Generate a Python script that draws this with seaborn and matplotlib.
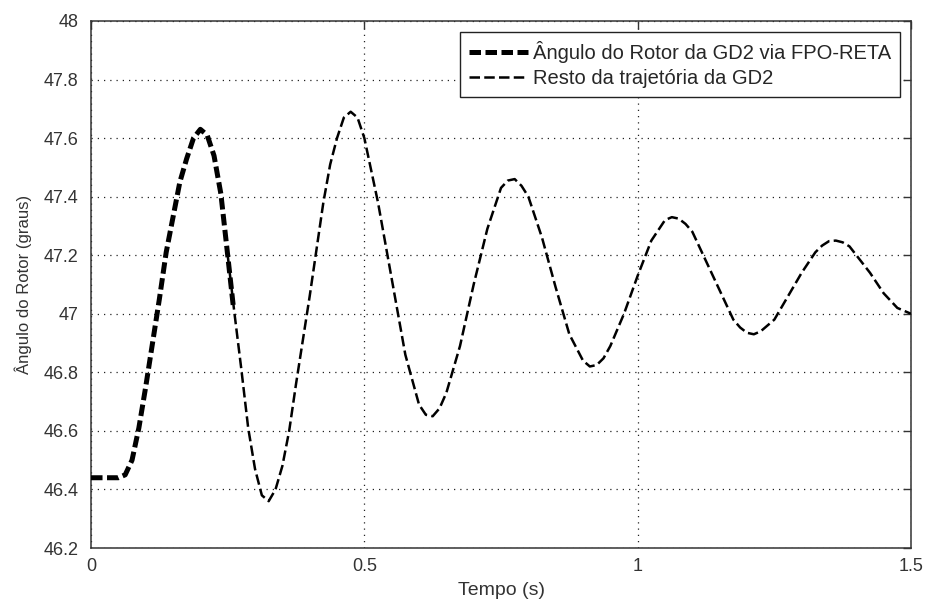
"""Angulo do rotor da GD2 - trajetoria via FPO-RETA e resto da trajetoria."""
import matplotlib
matplotlib.use("Agg")
import matplotlib.pyplot as plt
import pandas as pd
import seaborn as sns

# trecho calculado via FPO-RETA (linha grossa)
t_fpo = [0.0, 0.025, 0.05, 0.0625, 0.075, 0.0875, 0.1, 0.1125, 0.125, 0.1375,
         0.15, 0.1625, 0.175, 0.1875, 0.2, 0.2125, 0.225, 0.2375, 0.25, 0.26]
ang_fpo = [46.44, 46.44, 46.44, 46.45, 46.50, 46.61, 46.75, 46.90, 47.05, 47.21,
           47.33, 47.45, 47.53, 47.60, 47.63, 47.61, 47.54, 47.41, 47.20, 47.03]

# resto da trajetoria (linha fina)
t_resto = [0.25, 0.2625, 0.275, 0.2875, 0.3, 0.3125, 0.325, 0.3375, 0.35, 0.3625,
           0.375, 0.3875, 0.4, 0.4125, 0.425, 0.4375, 0.45, 0.4625, 0.475, 0.4875,
           0.5, 0.525, 0.55, 0.575, 0.6, 0.6125, 0.625, 0.6375, 0.65, 0.675,
           0.7, 0.725, 0.75, 0.7625, 0.775, 0.7875, 0.8, 0.825, 0.85, 0.875,
           0.9, 0.9125, 0.925, 0.9375, 0.95, 0.975, 1.0, 1.025, 1.05, 1.0625,
           1.075, 1.0875, 1.1, 1.125, 1.15, 1.175, 1.1875, 1.2, 1.2125, 1.225,
           1.25, 1.275, 1.3, 1.325, 1.3375, 1.35, 1.3625, 1.375, 1.3875, 1.4,
           1.425, 1.45, 1.475, 1.5]
ang_resto = [47.20, 47.00, 46.81, 46.61, 46.47, 46.38, 46.36, 46.40, 46.48, 46.60,
             46.76, 46.91, 47.06, 47.22, 47.38, 47.51, 47.60, 47.67, 47.69, 47.67,
             47.60, 47.38, 47.12, 46.86, 46.69, 46.655, 46.65, 46.677, 46.73, 46.89,
             47.10, 47.29, 47.43, 47.455, 47.46, 47.437, 47.40, 47.26, 47.09, 46.93,
             46.84, 46.82, 46.825, 46.848, 46.89, 47.00, 47.13, 47.25, 47.32, 47.33,
             47.325, 47.307, 47.28, 47.18, 47.08, 46.98, 46.953, 46.935, 46.93, 46.94,
             46.98, 47.06, 47.14, 47.21, 47.233, 47.248, 47.25, 47.244, 47.23, 47.20,
             47.14, 47.07, 47.02, 47.00]

lbl_fpo = "Ângulo do Rotor da GD2 via FPO-RETA"
lbl_resto = "Resto da trajetória da GD2"

df_fpo = pd.DataFrame({"t": t_fpo, "ang": ang_fpo})
df_resto = pd.DataFrame({"t": t_resto, "ang": ang_resto})

sns.set_style("white")
plt.rcParams["font.family"] = ["Liberation Sans", "DejaVu Sans"]

fig = plt.figure(figsize=(9.26, 6.03), dpi=100)
ax = fig.add_axes([0.0983, 0.0912, 0.8855, 0.874])

sns.lineplot(data=df_resto, x="t", y="ang", ax=ax, color="black", linewidth=1.8,
             linestyle="--", label=lbl_resto, zorder=3)
sns.lineplot(data=df_fpo, x="t", y="ang", ax=ax, color="black", linewidth=3.6,
             linestyle="--", label=lbl_fpo, zorder=4)
ax.lines[0].set_dashes([4.2, 1.7])
ax.lines[1].set_dashes([2.3, 0.9])

ax.set_xlim(0, 1.5)
ax.set_ylim(46.2, 48)
ax.set_xticks([0, 0.5, 1, 1.5])
ax.set_xticklabels(["0", "0.5", "1", "1.5"])
yt = [46.2, 46.4, 46.6, 46.8, 47, 47.2, 47.4, 47.6, 47.8, 48]
ax.set_yticks(yt)
ax.set_yticklabels(["46.2", "46.4", "46.6", "46.8", "47", "47.2", "47.4",
                    "47.6", "47.8", "48"])

ax.grid(True, linestyle=(0, (1, 4)), color="#222222", linewidth=0.9)
ax.tick_params(direction="in", length=6, width=1, top=True, right=True,
               labelsize=13, colors="#333333")
ax.tick_params(axis="y", pad=9)
ax.tick_params(axis="x", pad=7)
for s in ax.spines.values():
    s.set_color("#333333")
    s.set_linewidth(1.1)

ax.set_xlabel("Tempo (s)", fontsize=14, color="#333333", labelpad=5)
ax.set_ylabel("Ângulo do Rotor (graus)", fontsize=12, color="#333333", labelpad=8)

h, l = ax.get_legend_handles_labels()
leg = ax.legend(h[::-1], l[::-1], loc="upper right", fontsize=14.5, frameon=True,
                fancybox=False, edgecolor="#222222", framealpha=1,
                borderpad=0.45, handlelength=2.9, handletextpad=0.25,
                labelspacing=0.3, borderaxespad=0.55)
leg.get_frame().set_linewidth(1.0)

fig.savefig("out.png", dpi=100, facecolor="white")
